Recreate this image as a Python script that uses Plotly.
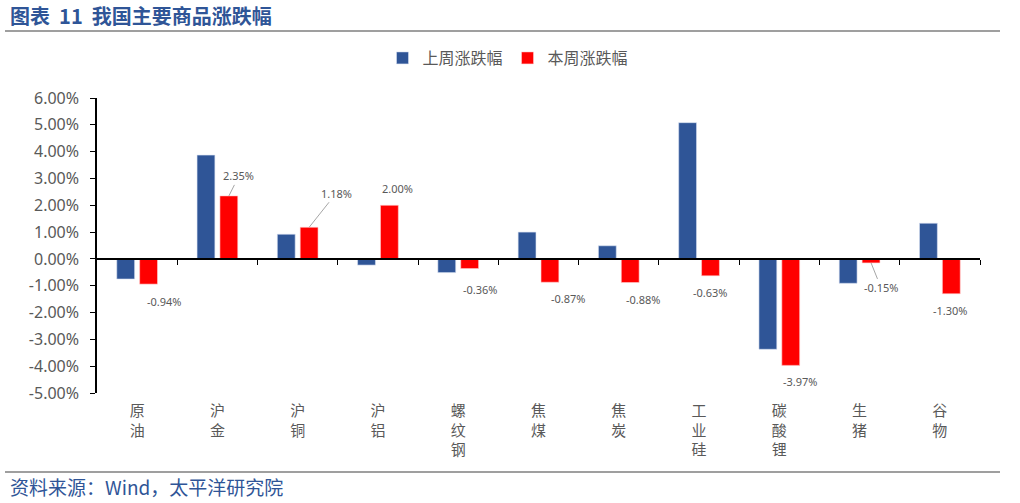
import plotly.graph_objects as go

categories = ["原油", "沪金", "沪铜", "沪铝", "螺纹钢", "焦煤", "焦炭", "工业硅", "碳酸锂", "生猪", "谷物"]
last_week = [-0.75, 3.87, 0.92, -0.23, -0.51, 1.00, 0.49, 5.08, -3.37, -0.91, 1.33]
this_week = [-0.94, 2.35, 1.18, 2.00, -0.36, -0.87, -0.88, -0.63, -3.97, -0.15, -1.30]
y_ticks = [6, 5, 4, 3, 2, 1, 0, -1, -2, -3, -4, -5]
y_tick_text = [f"{v:.2f}%" for v in y_ticks]
series_names = ["上周涨跌幅", "本周涨跌幅"]

# label placement (pixel offsets from bar end) and leader-line flags – styling only
label_dx = [16, 10, 27, 8, 11, 18, 13, 0, 10, 10, -1]
label_dy = [17, -20, -34, -17, 21, 16, 17, 17, 16, 25, 17]
leader = [False, True, True, False, True, False, False, False, False, True, False]

tick_labels = ["<br>".join(list(c)) for c in categories]
BLUE = "#2F5597"
RED = "#FF0000"
GREY = "#595959"

# plot area in page pixels: x 97..980, y 98..393 (body margin removed below)
L, T, PW, PH = 97, 98, 883, 295

def px_x(p):
    return (p - 97) / PW

def px_y(p):
    return (393 - p) / PH

fig = go.Figure()
fig.add_trace(go.Bar(x=categories, y=last_week, name=series_names[0],
                     marker=dict(color=BLUE, line=dict(color="#D9E1F2", width=0.6))))
fig.add_trace(go.Bar(x=categories, y=this_week, name=series_names[1],
                     marker=dict(color=RED, line=dict(color="#FFD0D0", width=0.6))))

for i, c in enumerate(categories):
    v = this_week[i]
    fig.add_annotation(
        x=c, y=v, xref="x", yref="y", xshift=11.5,
        text=f"{v:.2f}%", showarrow=True, arrowhead=0, arrowwidth=1,
        arrowcolor="#A6A6A6" if leader[i] else "rgba(0,0,0,0)",
        ax=label_dx[i], ay=label_dy[i], standoff=0,
        font=dict(size=11, color=GREY, family="Noto Sans, Noto Sans CJK SC"),
    )

# title and source
fig.add_annotation(text="<b>图表  11  我国主要商品涨跌幅</b>", xref="paper", yref="paper",
                   x=px_x(8), y=px_y(15), xanchor="left", yanchor="middle",
                   showarrow=False, font=dict(size=20, color=BLUE, family="Noto Sans CJK SC"))
fig.add_annotation(text="资料来源：Wind，太平洋研究院", xref="paper", yref="paper",
                   x=px_x(8), y=px_y(487), xanchor="left", yanchor="middle",
                   showarrow=False, font=dict(size=19, color=BLUE, family="Noto Sans CJK SC"))
fig.add_shape(type="line", xref="paper", yref="paper", x0=px_x(5), x1=px_x(1000),
              y0=px_y(31), y1=px_y(31), line=dict(color="#404040", width=1.2))
fig.add_shape(type="line", xref="paper", yref="paper", x0=px_x(5), x1=px_x(1000),
              y0=px_y(472), y1=px_y(472), line=dict(color="#404040", width=1.2))

fig.update_layout(
    width=1020, height=503,
    margin=dict(l=L, r=1020 - L - PW, t=T, b=503 - T - PH),
    paper_bgcolor="white", plot_bgcolor="white",
    barmode="group", bargap=0.43, bargroupgap=0.22,
    font=dict(family="Noto Sans CJK SC, Noto Sans", color=GREY),
    showlegend=True,
    legend=dict(orientation="h", xref="container", yref="container",
                x=508 / 1020, y=1 - 58 / 503, xanchor="center", yanchor="middle",
                font=dict(size=16, color=GREY, family="Noto Sans CJK SC"),
                itemwidth=30, bgcolor="rgba(0,0,0,0)"),
    xaxis=dict(type="category", tickvals=categories, ticktext=tick_labels,
               showline=False, showgrid=False, ticks="", range=[-0.5, 10.5],
               ticklabelstandoff=7,
               tickfont=dict(size=15, color=GREY, family="Noto Sans CJK SC")),
    xaxis2=dict(overlaying="x", anchor="free", position=5 / 11, range=[-0.5, 10.5],
                tickvals=[k + 0.5 for k in range(len(categories))], ticks="outside",
                ticklen=5, tickcolor="black", showticklabels=False, showline=True,
                linecolor="black", linewidth=1.5, showgrid=False, zeroline=False, side="bottom"),
    yaxis=dict(range=[-5, 6], tickvals=y_ticks, ticktext=y_tick_text, showgrid=False,
               zeroline=False, showline=True, linecolor="black", linewidth=1.5,
               ticks="outside", ticklen=5, tickcolor="black", ticklabelstandoff=8,
               tickfont=dict(size=16, color=GREY, family="Noto Sans")),
)
fig.add_trace(go.Scatter(x=[0], y=[0], xaxis="x2", mode="markers",
                         marker=dict(opacity=0), showlegend=False, hoverinfo="skip"))

fig.write_html("out.html", config={"displayModeBar": False},
               post_script="document.body.style.margin='0px';")
